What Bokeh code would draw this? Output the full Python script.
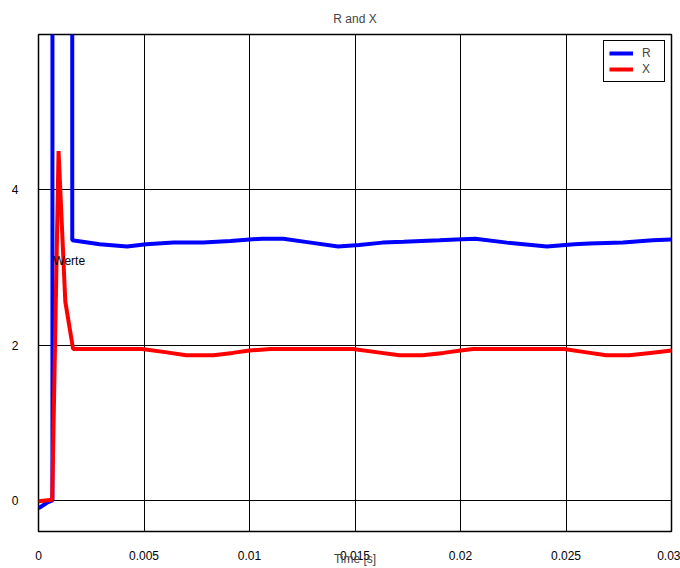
from bokeh.plotting import figure
from bokeh.models import Label, Legend, LegendItem, FixedTicker, Range1d
from bokeh.embed import file_html
from bokeh.resources import INLINE

# ---- data ----
t_R = [0, 0.0004, 0.00066, 0.00067, 0.00159, 0.0016, 0.0029, 0.0042, 0.0051, 0.0064,
       0.0078, 0.0091, 0.0100, 0.0106, 0.0116, 0.0129, 0.0142, 0.0152, 0.0163, 0.0173,
       0.0190, 0.0198, 0.0207, 0.0222, 0.0241, 0.0254, 0.0261, 0.0277, 0.0291, 0.0300]
R = [-0.10, -0.03, 0.00, 60, 60, 3.35, 3.30, 3.27, 3.30, 3.32,
     3.32, 3.34, 3.36, 3.37, 3.37, 3.32, 3.27, 3.29, 3.32, 3.33,
     3.35, 3.36, 3.37, 3.32, 3.27, 3.30, 3.31, 3.32, 3.35, 3.36]

t_X = [0, 0.00065, 0.00095, 0.00127, 0.00164, 0.0049, 0.0060, 0.0070, 0.0083, 0.0092,
       0.0100, 0.0110, 0.0149, 0.0160, 0.0171, 0.0182, 0.0192, 0.0200, 0.0206, 0.0249,
       0.0259, 0.0269, 0.0280, 0.0290, 0.0300]
X = [-0.01, 0.01, 4.50, 2.56, 1.95, 1.95, 1.91, 1.87, 1.87, 1.90,
     1.93, 1.95, 1.95, 1.91, 1.87, 1.87, 1.90, 1.93, 1.95, 1.95,
     1.91, 1.87, 1.87, 1.90, 1.93]

x_ticks = [0, 0.005, 0.01, 0.015, 0.02, 0.025, 0.03]
x_tick_labels = ["0", "0.005", "0.01", "0.015", "0.02", "0.025", "0.03"]
y_ticks = [0, 2, 4, 6]
y_tick_labels = ["0", "2", "4", ""]

FONT = "Liberation Sans"

p = figure(width=680, height=568, output_backend="svg", toolbar_location=None,
           x_range=Range1d(0, 0.03), y_range=Range1d(-0.4, 6.0),
           min_border_left=38, min_border_right=9, min_border_top=33, min_border_bottom=36,
           title="R and X")
p.title.align = "center"
p.title.text_font = FONT
p.title.text_font_size = "12px"
p.title.text_font_style = "normal"
p.title.standoff = 18

p.outline_line_color = "black"
p.outline_line_width = 1.5
p.outline_line_alpha = 1

for ax in (p.xaxis[0], p.yaxis[0]):
    ax.axis_line_color = None
    ax.major_tick_line_color = None
    ax.minor_tick_line_color = None
    ax.major_label_text_font = FONT
    ax.major_label_text_font_size = "12px"
    ax.major_label_text_color = "black"

p.xaxis.ticker = FixedTicker(ticks=x_ticks)
p.xaxis.major_label_overrides = dict(zip(x_ticks, x_tick_labels))
p.xaxis.major_label_standoff = 13
p.xaxis.axis_label = "Time [s]"
p.xaxis.axis_label_text_font = FONT
p.xaxis.axis_label_text_font_size = "12px"
p.xaxis.axis_label_text_font_style = "normal"
p.xaxis.axis_label_standoff = -11

p.yaxis.ticker = FixedTicker(ticks=y_ticks)
p.yaxis.major_label_overrides = dict(zip(y_ticks, y_tick_labels))
p.yaxis.major_label_standoff = 14

p.xgrid.ticker = FixedTicker(ticks=x_ticks)
p.ygrid.ticker = FixedTicker(ticks=y_ticks)
for g in (p.xgrid[0], p.ygrid[0]):
    g.grid_line_color = "black"
    g.grid_line_alpha = 1
    g.grid_line_width = 1

r1 = p.line(t_R, R, line_color="#0000FF", line_width=4)
r2 = p.line(t_X, X, line_color="#FF0000", line_width=4)

p.add_layout(Label(x=0.0007, y=3.08, text="Werte", text_font=FONT, text_font_size="12px",
                   text_color="black", text_baseline="alphabetic"))

legend = Legend(items=[LegendItem(label="R", renderers=[r1]),
                       LegendItem(label="X", renderers=[r2])],
                location="top_right")
legend.margin = 6
legend.padding = 5
legend.spacing = 2
legend.label_height = 12
legend.glyph_height = 12
legend.glyph_width = 24
legend.label_standoff = 9
legend.label_width = 17
legend.border_line_color = "black"
legend.border_line_width = 1
legend.border_line_alpha = 1
legend.label_text_font = FONT
legend.label_text_font_size = "12px"
legend.background_fill_alpha = 1
p.add_layout(legend)

open("out.html", "w").write(file_html(p, INLINE))
